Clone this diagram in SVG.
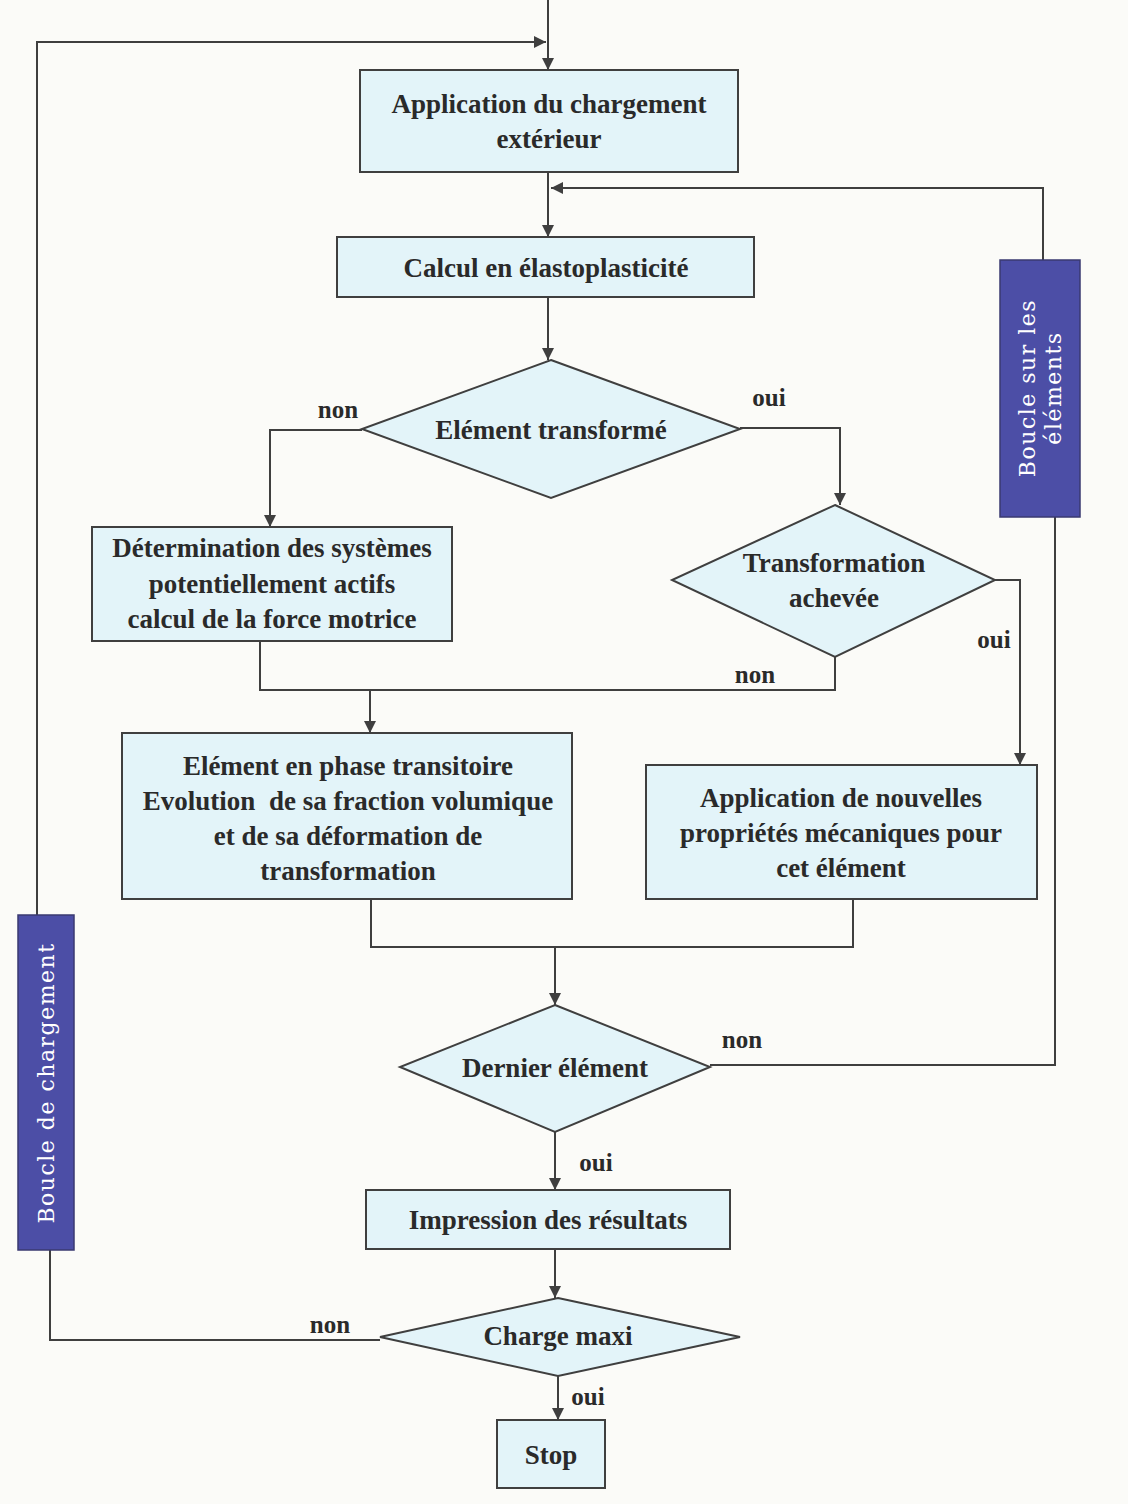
<svg xmlns="http://www.w3.org/2000/svg" width="1128" height="1504" viewBox="0 0 1128 1504">
<style>
.bg{fill:#fbfbf8}
.box{fill:#e3f4f9;stroke:#3f3f3f;stroke-width:2}
.loop{fill:#4c4ea6;stroke:#3a3a70;stroke-width:1.5}
.t{font-family:"Liberation Serif","Times New Roman",serif;font-size:27px;fill:#2a2a2a;text-anchor:middle;font-weight:bold}
.lbl{font-family:"Liberation Serif","Times New Roman",serif;font-size:25px;fill:#2a2a2a;text-anchor:middle;font-weight:bold}
.lt{font-family:"DejaVu Serif","Liberation Serif",serif;font-size:22px;fill:#ffffff;text-anchor:middle;letter-spacing:1.5px}
.c{fill:none;stroke:#3f3f3f;stroke-width:2}
</style>
<defs>
<marker id="ah" viewBox="0 0 12 14" refX="14" refY="7" markerWidth="14" markerHeight="12" markerUnits="userSpaceOnUse" orient="auto">
<path d="M0,0 L14,7 L0,14 Z" fill="#3f3f3f"/>
</marker>
</defs>
<rect class="bg" x="0" y="0" width="1128" height="1504"/>
<g id="connectors">
<path class="c" d="M548,0 V70" marker-end="url(#ah)"/>
<path class="c" d="M37,915 V42 H546" marker-end="url(#ah)"/>
<path class="c" d="M548,172 V237" marker-end="url(#ah)"/>
<path class="c" d="M1043,260 V188 H551" marker-end="url(#ah)"/>
<path class="c" d="M548,297 V360" marker-end="url(#ah)"/>
<path class="c" d="M362,430 H270 V527" marker-end="url(#ah)"/>
<path class="c" d="M740,428 H840 V505" marker-end="url(#ah)"/>
<path class="c" d="M995,580 H1020 V765" marker-end="url(#ah)"/>
<path class="c" d="M835,657 V690 H260 V641"/>
<path class="c" d="M370,690 V733" marker-end="url(#ah)"/>
<path class="c" d="M371,899 V947 H853 V899"/>
<path class="c" d="M555,947 V1005" marker-end="url(#ah)"/>
<path class="c" d="M710,1065 H1055 V517"/>
<path class="c" d="M555,1132 V1190" marker-end="url(#ah)"/>
<path class="c" d="M555,1249 V1298" marker-end="url(#ah)"/>
<path class="c" d="M558,1376 V1420" marker-end="url(#ah)"/>
<path class="c" d="M380,1340 H50 V1250"/>
<text class="lbl" x="338" y="418">non</text>
<text class="lbl" x="769" y="406">oui</text>
<text class="lbl" x="994" y="648">oui</text>
<text class="lbl" x="755" y="683">non</text>
<text class="lbl" x="742" y="1048">non</text>
<text class="lbl" x="596" y="1171">oui</text>
<text class="lbl" x="330" y="1333">non</text>
<text class="lbl" x="588" y="1405">oui</text>
</g>
<g id="n1">
<rect class="box" x="360" y="70" width="378" height="102"/>
<text class="t" x="549" y="113">Application du chargement</text>
<text class="t" x="549" y="148">extérieur</text>
</g>
<g id="n2">
<rect class="box" x="337" y="237" width="417" height="60"/>
<text class="t" x="546" y="277">Calcul en élastoplasticité</text>
</g>
<g id="d1">
<polygon class="box" points="551,360 740,429 551,498 362,429"/>
<text class="t" x="551" y="439">Elément transformé</text>
</g>
<g id="n3">
<rect class="box" x="92" y="527" width="360" height="114"/>
<text class="t" x="272" y="557">Détermination des systèmes</text>
<text class="t" x="272" y="593">potentiellement actifs</text>
<text class="t" x="272" y="628">calcul de la force motrice</text>
</g>
<g id="d2">
<polygon class="box" points="835,505 995,580 835,657 672,580"/>
<text class="t" x="834" y="572">Transformation</text>
<text class="t" x="834" y="607">achevée</text>
</g>
<g id="n4">
<rect class="box" x="122" y="733" width="450" height="166"/>
<text class="t" x="348" y="775">Elément en phase transitoire</text>
<text class="t" x="348" y="810" xml:space="preserve">Evolution  de sa fraction volumique</text>
<text class="t" x="348" y="845">et de sa déformation de</text>
<text class="t" x="348" y="880">transformation</text>
</g>
<g id="n5">
<rect class="box" x="646" y="765" width="391" height="134"/>
<text class="t" x="841" y="807">Application de nouvelles</text>
<text class="t" x="841" y="842">propriétés mécaniques pour</text>
<text class="t" x="841" y="877">cet élément</text>
</g>
<g id="d3">
<polygon class="box" points="555,1005 710,1067 555,1132 400,1067"/>
<text class="t" x="555" y="1077">Dernier élément</text>
</g>
<g id="n6">
<rect class="box" x="366" y="1190" width="364" height="59"/>
<text class="t" x="548" y="1229">Impression des résultats</text>
</g>
<g id="d4">
<polygon class="box" points="558,1298 740,1337 558,1376 380,1337"/>
<text class="t" x="558" y="1345">Charge maxi</text>
</g>
<g id="stop">
<rect class="box" x="497" y="1420" width="108" height="68"/>
<text class="t" x="551" y="1464">Stop</text>
</g>
<g id="loopElements">
<rect class="loop" x="1000" y="260" width="80" height="257"/>
<text class="lt" transform="translate(1035,388) rotate(-90)">Boucle sur les</text>
<text class="lt" transform="translate(1061,388) rotate(-90)">éléments</text>
</g>
<g id="loopLoad">
<rect class="loop" x="18" y="915" width="56" height="335"/>
<text class="lt" transform="translate(54,1083) rotate(-90)">Boucle de chargement</text>
</g>
</svg>
